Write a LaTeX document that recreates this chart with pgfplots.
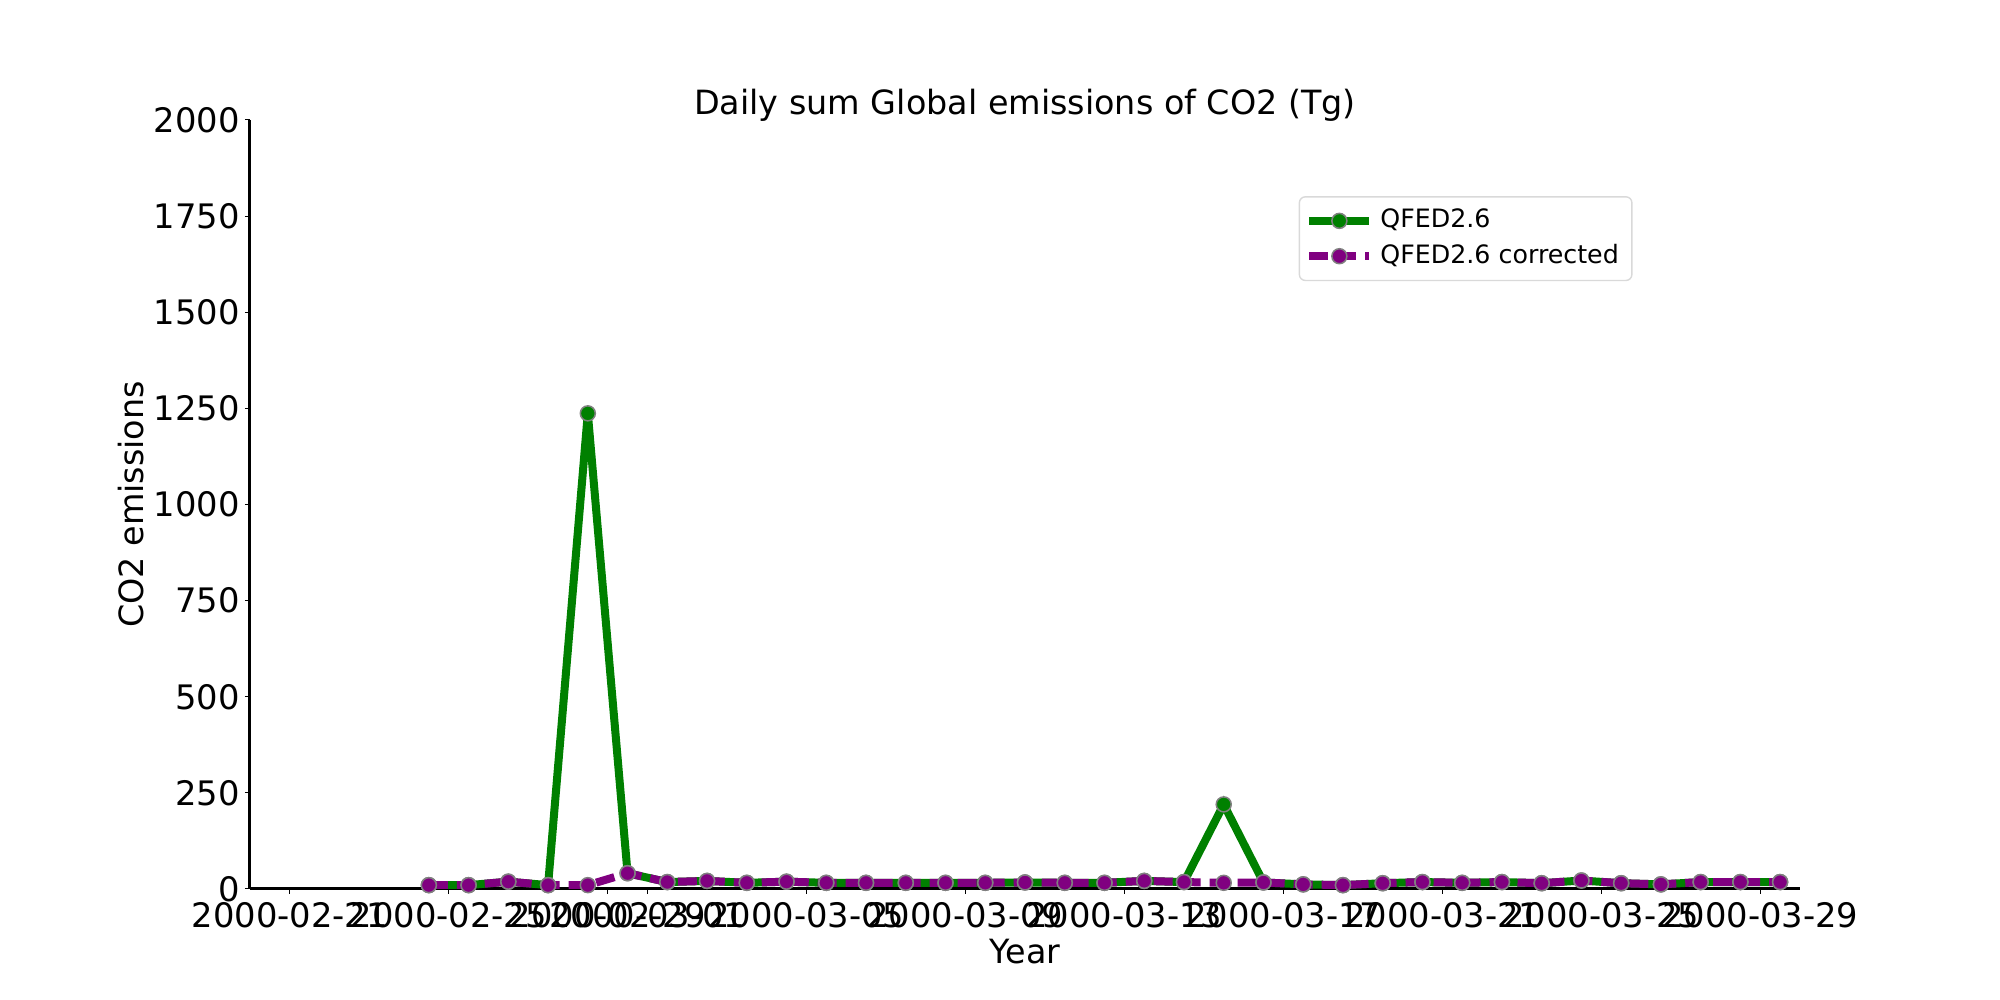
\documentclass[border=0pt]{standalone}
\usepackage{pgfplots}
\pgfplotsset{compat=1.18}
\usepackage{pgfplotstable}
\usepackage{fontspec}
\setmainfont{DejaVu Sans}

\definecolor{mplgreen}{HTML}{008000}
\definecolor{mplpurple}{HTML}{800080}
\definecolor{edgegray}{HTML}{808080}

% x = days after 2000-02-21 00:00 (points are at noon)
\pgfplotstableread{
d     qfed   corr
3.5   10     10
4.5   10     10
5.5   19     19
6.5   10     10
7.5   1237   10
8.5   41     41
9.5   18     18
10.5  21     21
11.5  16     16
12.5  19     19
13.5  16     16
14.5  16     16
15.5  16     16
16.5  16     16
17.5  16     16
18.5  17     17
19.5  16     16
20.5  16     16
21.5  21     21
22.5  18     18
23.5  220    16
24.5  17     17
25.5  12     12
26.5  10     10
27.5  15     15
28.5  18     18
29.5  16     16
30.5  18     18
31.5  15     15
32.5  22     22
33.5  15     15
34.5  12     12
35.5  18     18
36.5  18     18
37.5  18     18
}\emissions

\begin{document}
\begin{tikzpicture}
\useasboundingbox (-2.5cm,-1.11cm) rectangle (17.5cm,8.89cm);
\begin{axis}[
    at={(0,0)}, anchor=south west,
    scale only axis,
    width=15.5cm, height=7.69cm,
    xmin=-1, xmax=38,
    ymin=0, ymax=2000,
    axis x line*=bottom,
    axis y line*=left,
    axis line style={line width=0.3mm, black},
    xtick={0,4,8,9,13,17,21,25,29,33,37},
    xticklabels={2000-02-21,2000-02-25,2000-02-29,2000-03-01,2000-03-05,2000-03-09,2000-03-13,2000-03-17,2000-03-21,2000-03-25,2000-03-29},
    ytick={0,250,...,2000},
    tick align=outside,
    major tick length=0.5mm,
    tick style={line width=0.1mm, black},
    ticklabel style={font=\fontsize{9.6}{11}\selectfont},
    xticklabel style={yshift=0.4mm},
    yticklabel style={xshift=0.7mm},
    /pgf/number format/assume math mode=true,
    /pgf/number format/set thousands separator={},
    scaled y ticks=false,
    title={Daily sum Global emissions of CO2 (Tg)},
    title style={at={(axis description cs:0.5,1)}, anchor=base, yshift=-1.6mm, font=\fontsize{9.5}{11}\selectfont},
    xlabel={Year},
    xlabel style={at={(axis description cs:0.5,-0.082)}, anchor=center, font=\fontsize{9.5}{11}\selectfont},
    ylabel={CO2 emissions},
    ylabel style={at={(axis description cs:-0.0768,0.5)}, anchor=center, font=\fontsize{9.5}{11}\selectfont},
    legend style={at={(axis description cs:0.892,0.901)}, anchor=north east,
        draw=black!15, rounded corners=0.6mm, fill=white,
        font=\fontsize{7.2}{8.5}\selectfont, inner xsep=0.6mm, inner ysep=0.5mm,
        row sep=-0.3mm},
    legend cell align=left,
    legend image code/.code={\draw[mark repeat=2, mark phase=2, #1] plot coordinates {(0cm,0cm) (0.3cm,0cm) (0.6cm,0cm)};},
]
\addplot[mplgreen, line width=0.8mm, mark=*, mark size=0.75mm,
    mark options={solid, fill=mplgreen, draw=edgegray, line width=0.15mm}]
    table[x=d, y=qfed] {\emissions};
\addlegendentry{QFED2.6}
\addplot[mplpurple, line width=0.8mm, dash pattern=on 1.9mm off 0.9mm, mark=*, mark size=0.75mm,
    mark options={solid, fill=mplpurple, draw=edgegray, line width=0.15mm}]
    table[x=d, y=corr] {\emissions};
\addlegendentry{QFED2.6 corrected}
\end{axis}
\end{tikzpicture}
\end{document}
